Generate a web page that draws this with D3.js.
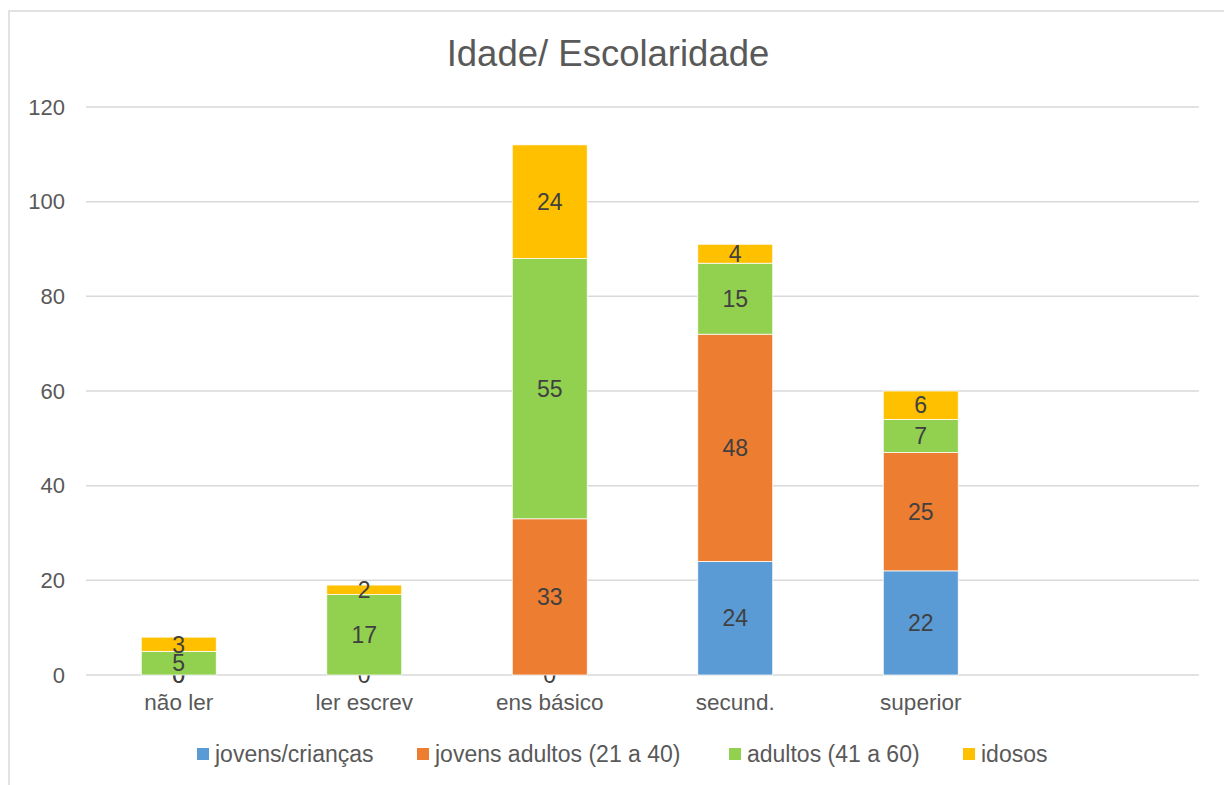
<!DOCTYPE html>
<html>
<head>
<meta charset="utf-8">
<script src="https://cdn.jsdelivr.net/npm/d3@7"></script>
<style>
  body { margin: 0; background: #fff; }
  text { font-family: "Liberation Sans", Arial, sans-serif; }
</style>
</head>
<body>
<div id="chart"></div>
<script>
var WIDTH = 1224, HEIGHT = 785
var MARGIN = {TOP: 107, RIGHT: 25, BOTTOM: 110, LEFT: 86}

// dados
var categorias = ["não ler", "ler escrev", "ens básico", "secund.", "superior", ""]
var series = ["jovens/crianças", "jovens adultos (21 a 40)", "adultos (41 a 60)", "idosos"]
var jovens_criancas = [0, 0, 0, 24, 22]
var jovens_adultos = [0, null, 33, 48, 25]
var adultos = [5, 17, 55, 15, 7]
var idosos = [3, 2, 24, 4, 6]
var yTicks = [0, 20, 40, 60, 80, 100, 120]
var cores = ["#5B9BD5", "#ED7D31", "#92D050", "#FFC000"]

var valores = [jovens_criancas, jovens_adultos, adultos, idosos]

var table = categorias.slice(0, 5).map(function(c, i){
  var row = {cat: c}
  series.forEach(function(s, j){ row[s] = valores[j][i] })
  return row
})

var svg = d3.select("#chart").append("svg")
  .attr("width", WIDTH)
  .attr("height", HEIGHT)

// moldura
svg.append("rect")
  .attr("x", 9).attr("y", 11)
  .attr("width", WIDTH + 20).attr("height", HEIGHT + 20)
  .attr("fill", "none")
  .attr("stroke", "#d9d9d9")
  .attr("stroke-width", 1.5)

var x = d3.scaleBand()
  .domain(categorias)
  .range([MARGIN.LEFT, WIDTH - MARGIN.RIGHT])
  .paddingInner(0.596)
  .paddingOuter(0.298)

var y = d3.scaleLinear()
  .domain([0, 120])
  .range([675, MARGIN.TOP])

// grade
svg.append("g")
  .selectAll("line")
  .data(yTicks)
  .enter()
  .append("line")
    .attr("x1", MARGIN.LEFT)
    .attr("x2", WIDTH - MARGIN.RIGHT)
    .attr("y1", function(d){ return y(d) })
    .attr("y2", function(d){ return y(d) })
    .attr("stroke", "#d9d9d9")
    .attr("stroke-width", 1.5)

// eixo y
var yAxis = svg.append("g")
  .attr("transform", "translate(65,0)")
  .call(d3.axisLeft(y).tickValues(yTicks).tickSize(0).tickPadding(0))
yAxis.select(".domain").remove()
yAxis.selectAll("text")
  .style("font-size", "22px")
  .attr("fill", "#595959")

// eixo x
var xAxis = svg.append("g")
  .attr("transform", "translate(0,675)")
  .call(d3.axisBottom(x).tickSize(0).tickPadding(19))
xAxis.select(".domain").remove()
xAxis.selectAll("text")
  .style("font-size", "22.5px")
  .attr("fill", "#595959")

// barras empilhadas
var stack = d3.stack().keys(series).value(function(d, k){ return d[k] || 0 })
var stacked = stack(table)

var grupos = svg.append("g")
  .selectAll("g")
  .data(stacked)
  .enter()
  .append("g")
    .attr("fill", function(d, i){ return cores[i] })

grupos.selectAll("rect")
  .data(function(d){ return d })
  .enter()
  .append("rect")
    .attr("x", function(d){ return x(d.data.cat) })
    .attr("width", x.bandwidth())
    .attr("y", function(d){ return y(d[1]) })
    .attr("height", function(d){ return y(d[0]) - y(d[1]) })
    .attr("stroke", "#fff")
    .attr("stroke-width", 0.75)

// rótulos
grupos.selectAll("text")
  .data(function(d){ return d.map(function(v){ v.key = d.key; return v }) })
  .enter()
  .filter(function(d){ return d.data[d.key] !== null })
  .append("text")
    .attr("x", function(d){ return x(d.data.cat) + x.bandwidth() / 2 })
    .attr("y", function(d){ return y((d[0] + d[1]) / 2) })
    .attr("dy", "0.36em")
    .attr("text-anchor", "middle")
    .style("font-size", "23px")
    .attr("fill", "#404040")
    .text(function(d){ return d.data[d.key] })

// título
svg.append("text")
  .attr("x", 608)
  .attr("y", 66)
  .attr("text-anchor", "middle")
  .style("font-size", "36.5px")
  .attr("fill", "#595959")
  .text("Idade/ Escolaridade")

// legenda
var legX = [197, 417, 729, 963]
var leg = svg.append("g")
  .selectAll("g")
  .data(series)
  .enter()
  .append("g")
    .attr("transform", function(d, i){ return "translate(" + legX[i] + ",748)" })
leg.append("rect")
  .attr("width", 12).attr("height", 12)
  .attr("fill", function(d, i){ return cores[i] })
leg.append("text")
  .attr("x", 18)
  .attr("y", 6)
  .attr("dy", "0.36em")
  .style("font-size", "23px")
  .attr("fill", "#595959")
  .text(function(d){ return d })
</script>
</body>
</html>
